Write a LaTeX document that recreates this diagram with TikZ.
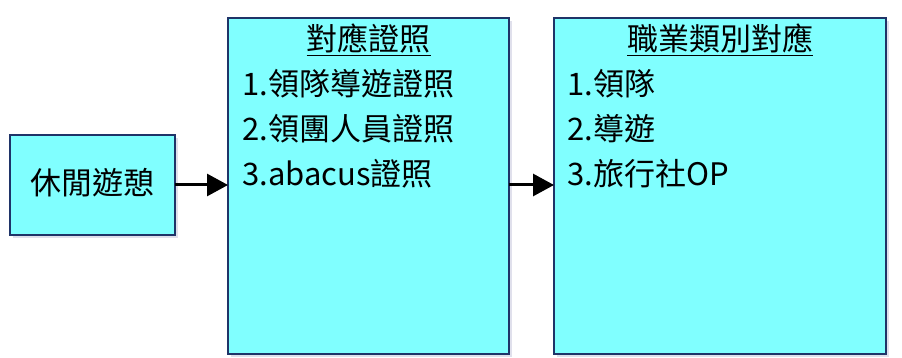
\documentclass[tikz,border=0pt]{standalone}
\usepackage{fontspec}
\setmainfont{Noto Sans CJK TC}
\usetikzlibrary{arrows.meta}
\definecolor{boxfill}{HTML}{80FFFF}
\definecolor{boxline}{HTML}{1F3468}
\begin{document}
\begin{tikzpicture}[x=1pt,y=-1pt,
  box/.style={draw=boxline,line width=1.8pt,fill=boxfill},
  shade/.style={fill=black!60!blue,opacity=0.12},
  txt/.style={inner sep=0pt,font=\fontsize{31}{31}\selectfont},
  arr/.style={line width=3pt,-{Triangle[length=21pt,width=22pt]}}]
\useasboundingbox (0,0) rectangle (902,358);
% shadows
\fill[shade] (13,138) rectangle (178,238);
\fill[shade] (231,21) rectangle (512,357);
\fill[shade] (557,21) rectangle (889,357);
% boxes
\draw[box] (10,135) rectangle (175,235);
\draw[box] (228,18) rectangle (509,354);
\draw[box] (554,18) rectangle (886,354);
\coordinate (L) at (175,185);
\coordinate (ML) at (228,185);
\coordinate (MR) at (509,185);
\coordinate (R) at (554,185);
\node[txt] (leis) at (92.5,183) {休閒遊憩};
\node[txt,anchor=base] (t1) at (368.5,51) {\underline{對應證照}};
\node[txt,anchor=base west] (a1) at (242,96) {1.領隊導遊證照};
\node[txt,anchor=base west] (a2) at (242,141) {2.領團人員證照};
\node[txt,anchor=base west] (a3) at (242,186) {3.abacus證照};
\node[txt,anchor=base] (t2) at (720,51) {\underline{職業類別對應}};
\node[txt,anchor=base west] (b1) at (567,96) {1.領隊};
\node[txt,anchor=base west] (b2) at (567,141) {2.導遊};
\node[txt,anchor=base west] (b3) at (567,186) {3.旅行社OP};
\draw[arr] (L) -- (ML);
\draw[arr] (MR) -- (R);
\end{tikzpicture}
\end{document}
